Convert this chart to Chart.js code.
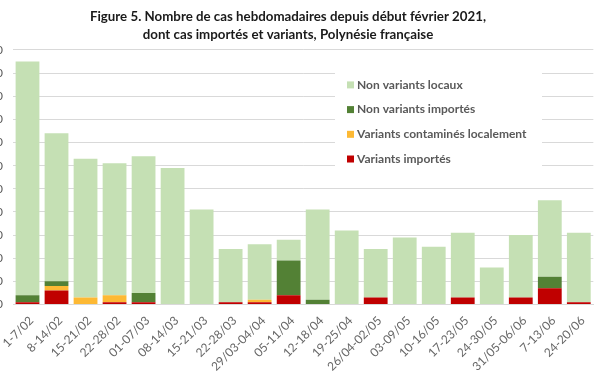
<!DOCTYPE html>
<html>
<head>
<meta charset="utf-8">
<script src="https://cdn.jsdelivr.net/npm/chart.js@4.4.1/dist/chart.umd.min.js"></script>
<style>
  html, body { margin: 0; padding: 0; background: #fff; overflow: hidden; }
  #wrap { position: absolute; left: -22px; top: 0; width: 620px; height: 372px; }
</style>
</head>
<body>
<div id="wrap"><canvas id="chart" width="620" height="372"></canvas></div>
<script>
// weekly cases
var weeks = ["1-7/02", "8-14/02", "15-21/02", "22-28/02", "01-07/03", "08-14/03", "15-21/03",
  "22-28/03", "29/03-04/04", "05-11/04", "12-18/04", "19-25/04", "26/04-02/05", "03-09/05",
  "10-16/05", "17-23/05", "24-30/05", "31/05-06/06", "7-13/06", "24-20/06"];
var nonVariantsLocaux   = [101, 64, 60, 57, 59, 59, 41, 23, 24, 9, 39, 32, 21, 29, 25, 28, 16, 27, 33, 30];
var nonVariantsImportes = [3, 2, 0, 0, 4, 0, 0, 0, 0, 15, 2, 0, 0, 0, 0, 0, 0, 0, 5, 0];
var variantsLocaux      = [0, 2, 3, 3, 0, 0, 0, 0, 1, 0, 0, 0, 0, 0, 0, 0, 0, 0, 0, 0];
var variantsImportes    = [1, 6, 0, 1, 1, 0, 0, 1, 1, 4, 0, 0, 3, 0, 0, 3, 0, 3, 7, 1];
var yTicks = { min: 0, max: 110, step: 10 };

var grey = '#595959';

// legend drawn as a white box inside the plot, top item = top of stack
var legendBox = {
  id: 'legendBox',
  afterDatasetsDraw: function(chart){
    var ctx = chart.ctx;
    var a = chart.chartArea;
    var x = a.left + 322, y = a.top + 22, w = 207, h = 96;
    ctx.save();
    ctx.fillStyle = '#ffffff';
    ctx.fillRect(x, y, w, h);
    ctx.font = 'bold 12px Lato';
    ctx.textBaseline = 'middle';
    var sets = chart.data.datasets.slice().reverse();
    for(var i = 0; i < sets.length; i++){
      var cy = y + 13 + i * 24.7;
      ctx.fillStyle = sets[i].backgroundColor;
      ctx.fillRect(x + 12, cy - 3.5, 7, 7);
      ctx.fillStyle = grey;
      ctx.fillText(sets[i].label, x + 22, cy);
    }
    ctx.restore();
  }
};

new Chart(document.getElementById('chart'), {
  type: 'bar',
  data: {
    labels: weeks,
    datasets: [
      { label: 'Variants importés', data: variantsImportes, backgroundColor: '#c00000' },
      { label: 'Variants contaminés localement', data: variantsLocaux, backgroundColor: '#fdb934' },
      { label: 'Non variants importés', data: nonVariantsImportes, backgroundColor: '#538135' },
      { label: 'Non variants locaux', data: nonVariantsLocaux, backgroundColor: '#c5e0b4' }
    ]
  },
  options: {
    responsive: false,
    animation: false,
    devicePixelRatio: 1,
    layout: { padding: { left: 0, right: 0, top: 0, bottom: 0 } },
    datasets: { bar: { categoryPercentage: 0.82, barPercentage: 1 } },
    plugins: {
      legend: { display: false },
      tooltip: { enabled: false },
      title: {
        display: true,
        text: ['Figure 5. Nombre de cas hebdomadaires depuis début février 2021,',
               'dont cas importés et variants, Polynésie française'],
        color: '#1a1a1a',
        font: { family: 'Lato', size: 13.3, weight: 'bold', lineHeight: 1.35 },
        padding: { top: 8, bottom: 6 }
      }
    },
    scales: {
      x: {
        stacked: true,
        grid: { display: false, drawTicks: false },
        border: { display: true, color: '#d9d9d9' },
        ticks: { color: '#666666', font: { family: 'Lato', size: 12 }, minRotation: 45, maxRotation: 45,
                 padding: 9, labelOffset: 4, autoSkip: false },
        afterFit: function(scale){ scale.height = 67.5; }
      },
      y: {
        stacked: true,
        min: yTicks.min,
        max: yTicks.max,
        grid: { color: '#d9d9d9', drawTicks: false },
        border: { display: false },
        ticks: { stepSize: yTicks.step, color: grey, font: { family: 'Lato', size: 12 }, padding: 10 },
        afterFit: function(scale){ scale.width = 35; }
      }
    }
  },
  plugins: [legendBox]
});
</script>
</body>
</html>
